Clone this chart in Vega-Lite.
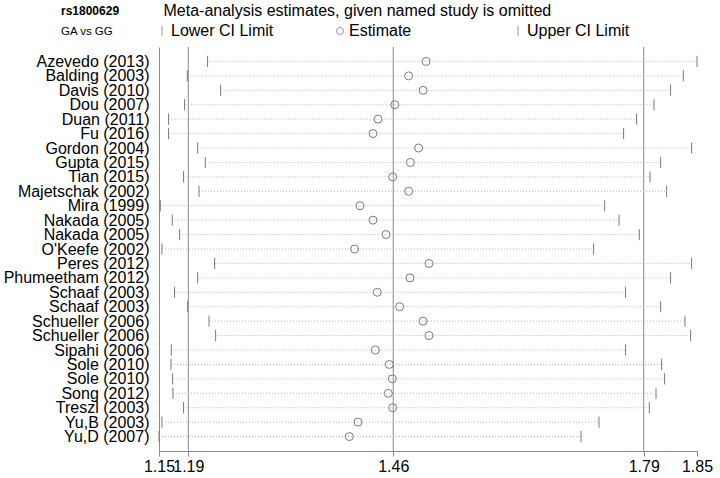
{
  "$schema": "https://vega.github.io/schema/vega-lite/v6.json",
  "width": 538,
  "height": 404,
  "autosize": {"type": "none"},
  "padding": {"left": 159, "top": 47, "right": 23, "bottom": 27},
  "background": "white",
  "title": {
    "text": "rs1800629",
    "subtitle": "GA vs GG",
    "anchor": "start",
    "frame": "group",
    "orient": "top",
    "dx": -98,
    "offset": -36,
    "fontSize": 12,
    "fontWeight": "bold",
    "color": "#000",
    "subtitleFontSize": 11.5,
    "subtitleColor": "#000",
    "subtitlePadding": 8
  },
  "datasets": {
    "studies": [
      {"key": "Azevedo (2013)", "study": "Azevedo (2013)", "lower": 1.2154, "estimate": 1.5033, "upper": 1.8602},
      {"key": "Balding (2003)", "study": "Balding (2003)", "lower": 1.1887, "estimate": 1.4803, "upper": 1.8422},
      {"key": "Davis (2010)", "study": "Davis (2010)", "lower": 1.2326, "estimate": 1.4994, "upper": 1.8254},
      {"key": "Dou (2007)", "study": "Dou (2007)", "lower": 1.1851, "estimate": 1.4621, "upper": 1.8036},
      {"key": "Duan (2011)", "study": "Duan (2011)", "lower": 1.164, "estimate": 1.4399, "upper": 1.7806},
      {"key": "Fu (2016)", "study": "Fu (2016)", "lower": 1.164, "estimate": 1.4333, "upper": 1.7635},
      {"key": "Gordon (2004)", "study": "Gordon (2004)", "lower": 1.2023, "estimate": 1.4934, "upper": 1.8531},
      {"key": "Gupta (2015)", "study": "Gupta (2015)", "lower": 1.2124, "estimate": 1.4825, "upper": 1.8123},
      {"key": "Tian (2015)", "study": "Tian (2015)", "lower": 1.1838, "estimate": 1.4592, "upper": 1.7983},
      {"key": "Majetschak (2002)", "study": "Majetschak (2002)", "lower": 1.2041, "estimate": 1.4803, "upper": 1.8202},
      {"key": "Mira (1999)", "study": "Mira (1999)", "lower": 1.1531, "estimate": 1.4162, "upper": 1.7385},
      {"key": "Nakada (2005)", "study": "Nakada (2005)", "lower": 1.1689, "estimate": 1.4333, "upper": 1.7575},
      {"key": "Nakada (2005)|2", "study": "Nakada (2005)", "lower": 1.1785, "estimate": 1.4505, "upper": 1.7842},
      {"key": "O'Keefe (2002)", "study": "O'Keefe (2002)", "lower": 1.1553, "estimate": 1.4091, "upper": 1.724},
      {"key": "Peres (2012)", "study": "Peres (2012)", "lower": 1.2247, "estimate": 1.5071, "upper": 1.8531},
      {"key": "Phumeetham (2012)", "study": "Phumeetham (2012)", "lower": 1.2023, "estimate": 1.4821, "upper": 1.8254},
      {"key": "Schaaf (2003)", "study": "Schaaf (2003)", "lower": 1.1719, "estimate": 1.439, "upper": 1.7661},
      {"key": "Schaaf (2003)|2", "study": "Schaaf (2003)", "lower": 1.1891, "estimate": 1.4684, "upper": 1.8123},
      {"key": "Schueller (2006)", "study": "Schueller (2006)", "lower": 1.2173, "estimate": 1.4992, "upper": 1.8444},
      {"key": "Schueller (2006)|2", "study": "Schueller (2006)", "lower": 1.226, "estimate": 1.5071, "upper": 1.8518},
      {"key": "Sipahi (2006)", "study": "Sipahi (2006)", "lower": 1.1676, "estimate": 1.4364, "upper": 1.7661},
      {"key": "Sole (2010)", "study": "Sole (2010)", "lower": 1.1672, "estimate": 1.4548, "upper": 1.8136},
      {"key": "Sole (2010)|2", "study": "Sole (2010)", "lower": 1.1693, "estimate": 1.4588, "upper": 1.8175},
      {"key": "Song (2012)", "study": "Song (2012)", "lower": 1.1698, "estimate": 1.4535, "upper": 1.8062},
      {"key": "Treszl (2003)", "study": "Treszl (2003)", "lower": 1.1838, "estimate": 1.4592, "upper": 1.7974},
      {"key": "Yu,B (2003)", "study": "Yu,B (2003)", "lower": 1.1553, "estimate": 1.4136, "upper": 1.7311},
      {"key": "Yu,D (2007)", "study": "Yu,D (2007)", "lower": 1.1514, "estimate": 1.4021, "upper": 1.7074}
    ],
    "refs": [
      {"ref": 1.19, "what": "overall lower CI"},
      {"ref": 1.46, "what": "overall estimate"},
      {"ref": 1.79, "what": "overall upper CI"}
    ]
  },
  "layer": [
    {
      "data": {"name": "refs"},
      "mark": {"type": "rule", "color": "#8a8a8a", "strokeWidth": 1},
      "encoding": {
        "x": {"field": "ref", "type": "quantitative"}
      }
    },
    {
      "data": {"name": "studies"},
      "mark": {"type": "rule", "color": "#b5b5b5", "strokeWidth": 1, "strokeDash": [1, 2]},
      "encoding": {
        "y": {"field": "key", "type": "nominal"},
        "x": {"field": "lower", "type": "quantitative"},
        "x2": {"field": "upper"}
      }
    },
    {
      "data": {"name": "studies"},
      "transform": [{"fold": ["lower", "estimate", "upper"], "as": ["limit", "value"]}],
      "mark": {"type": "point", "filled": false, "color": "#7a7a7a", "strokeWidth": 1, "size": 64, "opacity": 1},
      "encoding": {
        "y": {"field": "key", "type": "nominal"},
        "x": {"field": "value", "type": "quantitative"},
        "shape": {
          "field": "limit",
          "type": "nominal",
          "scale": {
            "domain": ["lower", "estimate", "upper"],
            "range": ["M0,-1.4L0,1.4", "circle", "M0,-1.4L0,1.4"]
          },
          "legend": {
            "title": null,
            "orient": "none",
            "legendX": -5,
            "legendY": -24,
            "direction": "horizontal",
            "gridAlign": "all",
            "columnPadding": 58,
            "labelFontSize": 16,
            "labelColor": "#000",
            "labelOffset": 1,
            "symbolSize": 50,
            "symbolStrokeColor": "#999",
            "symbolStrokeWidth": 1,
            "labelExpr": "{'lower': 'Lower CI Limit', 'estimate': 'Estimate', 'upper': 'Upper CI Limit'}[datum.label]"
          }
        }
      }
    }
  ],
  "resolve": {"scale": {"x": "shared", "y": "shared"}},
  "encoding": {
    "x": {
      "type": "quantitative",
      "scale": {"domain": [1.1514, 1.8602], "nice": false, "zero": false},
      "axis": {
        "title": null,
        "values": [1.1514, 1.19, 1.46, 1.79, 1.8602],
        "labelExpr": "datum.value > 1.855 ? '1.85' : format(datum.value, '.2f')",
        "grid": false,
        "labelOverlap": false,
        "labelFlush": false,
        "labelFontSize": 16,
        "labelColor": "#000",
        "labelPadding": 2,
        "tickSize": 5,
        "tickColor": "#8a8a8a",
        "domainColor": "#8a8a8a"
      }
    },
    "y": {
      "type": "nominal",
      "sort": null,
      "scale": {"type": "point", "padding": 1},
      "axis": {
        "title": "Meta-analysis estimates, given named study is omitted",
        "titleAngle": 0,
        "titleAlign": "left",
        "titleBaseline": "alphabetic",
        "titleX": 4,
        "titleY": -32,
        "titleFontSize": 16,
        "titleFontWeight": "normal",
        "titleColor": "#000",
        "ticks": false,
        "grid": false,
        "labelFontSize": 16,
        "labelColor": "#000",
        "labelPadding": 10,
        "labelExpr": "split(datum.label, '|')[0]",
        "domainColor": "#8a8a8a"
      }
    }
  },
  "config": {
    "font": "Liberation Sans",
    "view": {"stroke": null}
  }
}
